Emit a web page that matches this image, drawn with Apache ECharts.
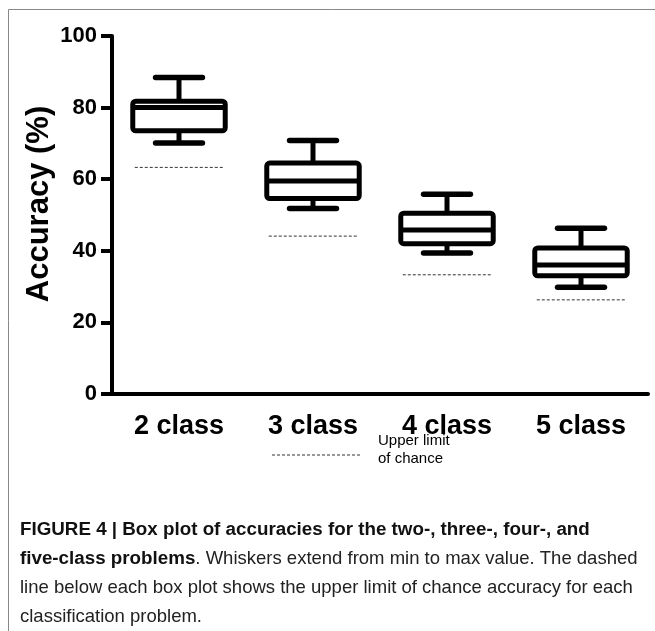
<!DOCTYPE html>
<html>
<head>
<meta charset="utf-8">
<script src="https://cdn.jsdelivr.net/npm/echarts@6/dist/echarts.min.js"></script>
<style>
  html, body { margin: 0; padding: 0; background: #fff; }
  #chart { width: 655px; height: 631px; }
</style>
</head>
<body>
<div id="chart"></div>
<script>
// ---- Data ----
const categories = ['2 class', '3 class', '4 class', '5 class'];
const minValues    = [70.1, 51.8, 39.4, 29.8];
const q1Values     = [73.5, 54.6, 42.0, 33.0];
const medianValues = [80.0, 59.5, 45.8, 36.0];
const q3Values     = [81.8, 64.5, 50.5, 40.8];
const maxValues    = [88.4, 70.8, 55.8, 46.3];
const chanceLimit  = [63.3, 44.1, 33.3, 26.3];
const yTicks = [0, 20, 40, 60, 80, 100];

const boxData = categories.map((c, i) => [i, minValues[i], q1Values[i], medianValues[i], q3Values[i], maxValues[i], chanceLimit[i]]);

const chart = echarts.init(document.getElementById('chart'), null, { renderer: 'canvas' });

const FONT = '"Liberation Sans", Arial, Helvetica, sans-serif';

function renderBox(params, api) {
  const idx = api.value(0);
  const band = api.size([1, 0])[0];
  const cx = api.coord([idx, 0])[0];
  const yMin = api.coord([idx, api.value(1)])[1];
  const yQ1 = api.coord([idx, api.value(2)])[1];
  const yMed = api.coord([idx, api.value(3)])[1];
  const yQ3 = api.coord([idx, api.value(4)])[1];
  const yMax = api.coord([idx, api.value(5)])[1];
  const yCh = api.coord([idx, api.value(6)])[1];
  const boxHalf = band * 0.345;
  const capHalf = band * 0.175;
  const chHalf = band * 0.33;
  const lw = 5;
  return {
    type: 'group',
    children: [
      { type: 'line', shape: { x1: cx, y1: yQ3, x2: cx, y2: yMax }, style: { stroke: '#000', lineWidth: lw } },
      { type: 'line', shape: { x1: cx, y1: yQ1, x2: cx, y2: yMin }, style: { stroke: '#000', lineWidth: lw } },
      { type: 'line', shape: { x1: cx - capHalf, y1: yMax, x2: cx + capHalf, y2: yMax }, style: { stroke: '#000', lineWidth: 5.5, lineCap: 'round' } },
      { type: 'line', shape: { x1: cx - capHalf, y1: yMin, x2: cx + capHalf, y2: yMin }, style: { stroke: '#000', lineWidth: 5.5, lineCap: 'round' } },
      { type: 'rect', shape: { x: cx - boxHalf, y: yQ3, width: boxHalf * 2, height: yQ1 - yQ3, r: 3 }, style: { stroke: '#000', lineWidth: lw, fill: '#fff', lineJoin: 'round' } },
      { type: 'line', shape: { x1: cx - boxHalf, y1: yMed, x2: cx + boxHalf, y2: yMed }, style: { stroke: '#000', lineWidth: lw } },
      { type: 'line', shape: { x1: cx - chHalf, y1: yCh, x2: cx + chHalf, y2: yCh }, style: { stroke: '#333', lineWidth: 1, lineDash: [3, 2] } }
    ]
  };
}

const option = {
  animation: false,
  backgroundColor: '#fff',
  grid: { left: 112, right: 7, top: 36, bottom: 237, containLabel: false },
  xAxis: {
    type: 'category',
    data: categories,
    axisLine: { lineStyle: { color: '#000', width: 4 } },
    axisTick: { alignWithLabel: true, length: 11, lineStyle: { color: '#000', width: 4 } },
    axisLabel: { color: '#000', fontFamily: FONT, fontWeight: 'bold', fontSize: 27, margin: 19 },
    splitLine: { show: false }
  },
  yAxis: {
    type: 'value',
    min: 0, max: 100, interval: 20,
    axisLine: { show: true, lineStyle: { color: '#000', width: 4 } },
    axisTick: { show: true, length: 11, lineStyle: { color: '#000', width: 4 } },
    axisLabel: { color: '#000', fontFamily: FONT, fontWeight: 'bold', fontSize: 22, margin: 15,
      formatter: v => yTicks.includes(v) ? String(v) : '' },
    splitLine: { show: false }
  },
  series: [{
    type: 'custom',
    renderItem: renderBox,
    data: boxData,
    encode: { x: 0, y: [1, 2, 3, 4, 5, 6] },
    clip: false
  }],
  graphic: [
    { type: 'rect', shape: { x: 8.5, y: 9.5, width: 800, height: 800 }, style: { fill: null, stroke: '#888', lineWidth: 1 }, silent: true, z: -10 },
    { type: 'text', x: 39, y: 204, rotation: Math.PI / 2, style: { text: 'Accuracy (%)', fontFamily: FONT, fontWeight: 'bold', fontSize: 31, fill: '#000', align: 'center', verticalAlign: 'middle' } },
    { type: 'line', shape: { x1: 272, y1: 455, x2: 362, y2: 455 }, style: { stroke: '#333', lineWidth: 1, lineDash: [3, 2] } },
    { type: 'text', left: 378, top: 432, style: { text: 'Upper limit\nof chance', fontFamily: FONT, fontSize: 15, lineHeight: 18, fill: '#000' } },
    { type: 'text', left: 20, top: 515, style: {
      text: '{b|FIGURE 4 | Box plot of accuracies for the two-, three-, four-, and}\n{b|five-class problems}{r|. Whiskers extend from min to max value. The dashed}\n{r|line below each box plot shows the upper limit of chance accuracy for each}\n{r|classification problem.}',
      fontFamily: FONT, fontSize: 18.5, lineHeight: 29,
      rich: {
        b: { fontFamily: FONT, fontWeight: 'bold', fontSize: 18.8, lineHeight: 29, fill: '#111' },
        r: { fontFamily: FONT, fontSize: 18.5, lineHeight: 29, fill: '#222' }
      }
    } }
  ]
};

chart.setOption(option);
</script>
</body>
</html>
